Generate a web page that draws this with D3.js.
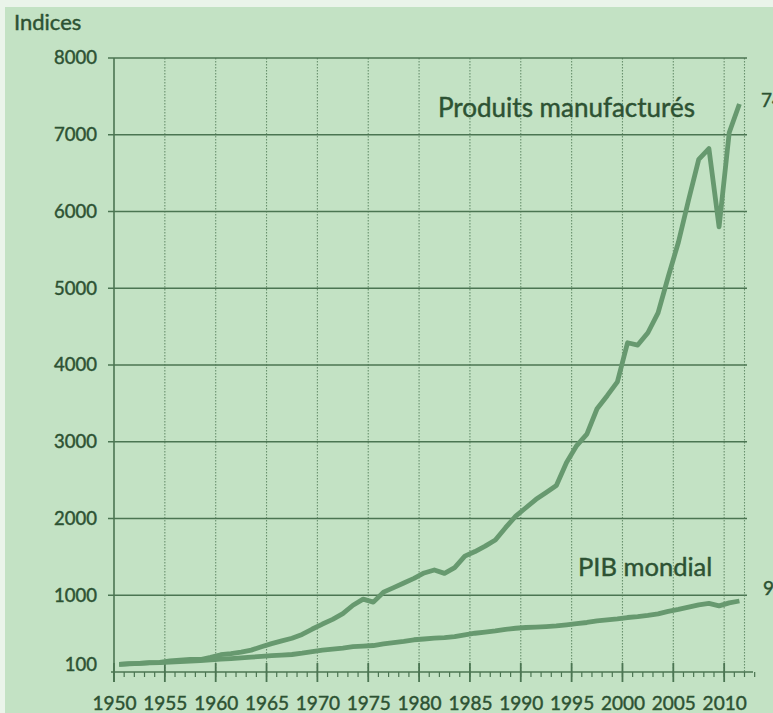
<!DOCTYPE html>
<html>
<head>
<meta charset="utf-8">
<script src="https://cdn.jsdelivr.net/npm/d3@7"></script>
<style>
  body { margin: 0; background: #eaf4ea; }
  svg { display: block; font-family: Lato, "Open Sans", sans-serif; }
  svg text { stroke: #2d5233; stroke-width: 0.45px; }
</style>
</head>
<body>
<div id="chart"></div>
<script>
// Indices 1950 = 100 : produits manufacturés vs PIB mondial

const years = d3.range(1950, 2012);

const manufactures = [
  100, 108, 112, 122, 125, 145, 155, 165, 163, 190,
  225, 240, 260, 285, 330, 370, 405, 440, 490, 560,
  625, 685, 760, 870, 950, 910, 1040, 1100, 1160, 1220,
  1290, 1330, 1285, 1360, 1510, 1570, 1640, 1720, 1880, 2030,
  2140, 2250, 2340, 2430, 2730, 2950, 3100, 3430, 3600, 3780,
  4290, 4260, 4420, 4680, 5150, 5600, 6150, 6680, 6820, 5800,
  7030, 7400
];

const pibMondial = [
  100, 106, 112, 118, 122, 130, 137, 143, 148, 158,
  168, 175, 184, 193, 204, 212, 220, 228, 245, 265,
  285, 298, 312, 330, 338, 345, 365, 383, 400, 420,
  430, 440, 448, 460, 485, 505, 520, 535, 555, 570,
  580, 585, 592, 600, 615, 630, 645, 665, 678, 692,
  710, 722, 738, 758, 790, 815, 845, 875, 895, 862,
  900, 925
];

const yTicks = [100, 1000, 2000, 3000, 4000, 5000, 6000, 7000, 8000];
const yGrid = [1000, 2000, 3000, 4000, 5000, 6000, 7000, 8000];
const xLabels = [1950, 1955, 1960, 1965, 1970, 1975, 1980, 1985, 1990, 1995, 2000, 2005, 2010];
const xGrid = [1955, 1960, 1965, 1970, 1975, 1980, 1985, 1990, 1995, 2000, 2005, 2010, 2012];
const minorYears = d3.range(1951, 2014);

const width = 773, height = 713;
const ink = "#2d5233", gridCol = "#4b7552", lineCol = "#67996f";

const svg = d3.select("#chart")
  .append("svg")
  .attr("width", width)
  .attr("height", height);

// fond vert (petite marge claire en haut et à gauche)
svg.append("rect")
  .attr("x", 5).attr("y", 7)
  .attr("width", width - 5).attr("height", height - 7)
  .attr("fill", "#c3e2c4");

const x = d3.scaleLinear().domain([1950, 2012]).range([114, 744.5]);
const y = d3.scaleLinear().domain([0, 8000]).range([672, 58]);

// grille horizontale
svg.append("g")
  .selectAll("line")
  .data(yGrid)
  .join("line")
    .attr("x1", 108).attr("x2", 747)
    .attr("y1", d => y(d)).attr("y2", d => y(d))
    .attr("stroke", gridCol)
    .attr("stroke-width", 1.5);

// grille verticale pointillée
svg.append("g")
  .selectAll("line")
  .data(xGrid)
  .join("line")
    .attr("x1", d => x(d)).attr("x2", d => x(d))
    .attr("y1", y(8000)).attr("y2", y(0))
    .attr("stroke", gridCol)
    .attr("stroke-opacity", 0.75)
    .attr("stroke-width", 1.1)
    .attr("stroke-dasharray", "1.5,1.5");

// axe vertical
svg.append("line")
  .attr("x1", x(1950)).attr("x2", x(1950))
  .attr("y1", y(8000)).attr("y2", 682)
  .attr("stroke", gridCol)
  .attr("stroke-width", 1.6);

// axe horizontal + graduations
svg.append("line")
  .attr("x1", 111).attr("x2", 753)
  .attr("y1", y(0)).attr("y2", y(0))
  .attr("stroke", gridCol)
  .attr("stroke-width", 1.6);

svg.append("g")
  .selectAll("line")
  .data(minorYears)
  .join("line")
    .attr("x1", d => x(d)).attr("x2", d => x(d))
    .attr("y1", y(0)).attr("y2", y(0) + 5)
    .attr("stroke", gridCol)
    .attr("stroke-width", 1.2);

svg.append("g")
  .selectAll("line")
  .data(xLabels)
  .join("line")
    .attr("x1", d => x(d)).attr("x2", d => x(d))
    .attr("y1", y(0) - 9).attr("y2", y(0) + 10)
    .attr("stroke", gridCol)
    .attr("stroke-width", 1.8);

// libellés des axes
const yAxis = svg.append("g")
  .attr("transform", `translate(${x(1950)},0)`)
  .call(d3.axisLeft(y).tickValues(yTicks).tickFormat(d3.format("d")).tickSize(0).tickPadding(17));
yAxis.select(".domain").remove();
yAxis.selectAll("text")
  .style("font-family", "Lato, sans-serif")
  .style("font-size", "18.5px")
  .attr("fill", ink);

const xAxis = svg.append("g")
  .attr("transform", `translate(0,${y(0)})`)
  .call(d3.axisBottom(x).tickValues(xLabels).tickFormat(d3.format("d")).tickSize(0).tickPadding(25));
xAxis.select(".domain").remove();
xAxis.selectAll("text")
  .style("font-family", "Lato, sans-serif")
  .style("font-size", "19px")
  .attr("fill", ink);

// courbes (points placés en milieu d'année)
const line = d3.line()
  .x((d, i) => x(years[i] + 0.5))
  .y(d => y(d));

svg.append("path")
  .datum(pibMondial)
  .attr("d", line)
  .attr("fill", "none")
  .attr("stroke", lineCol)
  .attr("stroke-width", 4.8)
  .attr("stroke-linejoin", "round");

svg.append("path")
  .datum(manufactures)
  .attr("d", line)
  .attr("fill", "none")
  .attr("stroke", lineCol)
  .attr("stroke-width", 4.8)
  .attr("stroke-linejoin", "round");

// textes
svg.append("text")
  .attr("x", 14).attr("y", 30)
  .style("font-size", "22px")
  .attr("fill", ink)
  .text("Indices");

svg.append("text")
  .attr("x", 438).attr("y", 117)
  .style("font-size", "26px")
  .attr("fill", ink)
  .text("Produits manufacturés");

svg.append("text")
  .attr("x", 578).attr("y", 576)
  .style("font-size", "25.5px")
  .attr("fill", ink)
  .text("PIB mondial");

svg.append("text")
  .attr("x", 761).attr("y", 107)
  .style("font-size", "19px")
  .attr("fill", ink)
  .text("7400");

svg.append("text")
  .attr("x", 763).attr("y", 595)
  .style("font-size", "19px")
  .attr("fill", ink)
  .text("925");
</script>
</body>
</html>
